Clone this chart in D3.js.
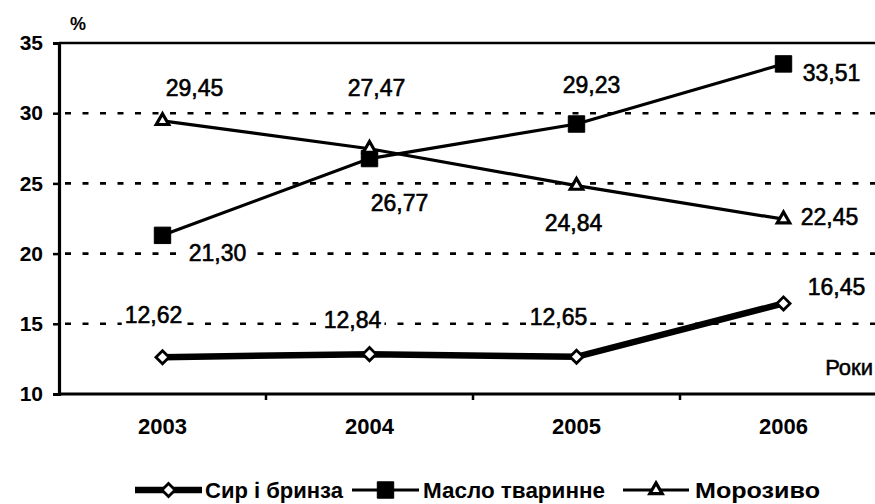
<!DOCTYPE html>
<html>
<head>
<meta charset="utf-8">
<script src="https://cdn.jsdelivr.net/npm/d3@7"></script>
<style>
  body { margin: 0; background: #fff; }
  text { font-family: "Liberation Sans", Arial, sans-serif; fill: #000; }
</style>
</head>
<body>
<svg id="chart" width="875" height="504"></svg>
<script>
const years = ['2003', '2004', '2005', '2006'];
const cheese = [12.62, 12.84, 12.65, 16.45];
const butter = [21.30, 26.77, 29.23, 33.51];
const iceCream = [29.45, 27.47, 24.84, 22.45];
const yTicks = [10, 15, 20, 25, 30, 35];
const seriesNames = ['Сир і бринза', 'Масло тваринне', 'Морозиво'];

const fmt = v => v.toFixed(2).replace('.', ',');

const svg = d3.select('#chart');
const plotL = 59, plotR = 887, plotT = 43, plotB = 394;

const x = d3.scaleBand().domain(years).range([plotL, plotR]).padding(0);
const cx = d => x(d) + x.bandwidth() / 2;
const y = d3.scaleLinear().domain([10, 35]).range([plotB, plotT]);

// dotted gridlines and solid top border
svg.append('g').selectAll('line').data(yTicks.filter(v => v > 10 && v < 35)).join('line')
  .attr('x1', plotL + 6).attr('x2', 875)
  .attr('y1', d => y(d)).attr('y2', d => y(d))
  .attr('stroke', '#000').attr('stroke-width', 2.6)
  .attr('stroke-dasharray', '6,11.5');
svg.append('line').attr('x1', plotL).attr('x2', 875).attr('y1', y(35)).attr('y2', y(35))
  .attr('stroke', '#000').attr('stroke-width', 2.6);

// y axis
const yAxis = svg.append('g').attr('transform', `translate(${plotL},0)`)
  .call(d3.axisLeft(y).tickValues(yTicks).tickSize(6).tickPadding(10));
yAxis.select('.domain').attr('stroke-width', 3.2);
yAxis.selectAll('.tick line').attr('stroke-width', 2.5);
yAxis.selectAll('.tick text').attr('font-size', 21).attr('font-weight', 'bold').attr('fill', '#000');

// x axis
const xAxis = svg.append('g').attr('transform', `translate(0,${plotB})`)
  .call(d3.axisBottom(x).tickSize(0).tickPadding(24).tickSizeOuter(0));
xAxis.select('.domain').attr('d', `M${plotL},0H875`).attr('stroke-width', 3.2);
xAxis.selectAll('.tick text').attr('font-size', 22).attr('font-weight', 'bold').attr('fill', '#000');
svg.append('g').selectAll('line').data(years.slice(1)).join('line')
  .attr('x1', d => x(d)).attr('x2', d => x(d))
  .attr('y1', plotB).attr('y2', plotB + 6)
  .attr('stroke', '#000').attr('stroke-width', 2.5);

svg.append('text').attr('x', 78).attr('y', 30).attr('text-anchor', 'middle')
  .attr('font-size', 18).attr('font-weight', 'bold').text('%');
svg.append('text').attr('x', 873).attr('y', 375).attr('text-anchor', 'end')
  .attr('font-size', 22).attr('stroke', '#000').attr('stroke-width', 0.5).text('Роки');

const line = d3.line().x((d, i) => cx(years[i])).y(d => y(d));

function drawSeries(vals, width, marker) {
  svg.append('path').datum(vals).attr('d', line)
    .attr('fill', 'none').attr('stroke', '#000').attr('stroke-width', width);
  svg.append('g').selectAll('path').data(vals).join('path')
    .attr('transform', (d, i) => `translate(${cx(years[i])},${y(d)})`)
    .attr('d', marker.d).attr('fill', marker.fill)
    .attr('stroke', '#000').attr('stroke-width', marker.sw);
}

const diamond = { d: d3.symbol(d3.symbolDiamond2, 110)(), fill: '#fff', sw: 2.8 };
const square = { d: d3.symbol(d3.symbolSquare, 270)(), fill: '#000', sw: 1 };
const triangle = { d: d3.symbol(d3.symbolTriangle2, 110)(), fill: '#fff', sw: 3.2 };

// value labels: offsets of label centre relative to its point
const labelOffsets = {
  cheese: [[-9, -42], [-17, -34], [-18, -40], [53, -16]],
  butter: [[55, 18], [30, 44], [15, -39], [48, 9]],
  ice: [[32, -33], [7, -61], [-3, 37], [46, -2]]
};
function drawLabels(vals, offs) {
  const g = svg.append('g');
  vals.forEach((d, i) => {
    const bg = g.append('rect').attr('fill', '#fff');
    const t = g.append('text')
      .attr('x', cx(years[i]) + offs[i][0])
      .attr('y', y(d) + offs[i][1])
      .attr('text-anchor', 'middle').attr('dominant-baseline', 'central')
      .attr('font-size', 23).attr('stroke', '#000').attr('stroke-width', 0.6)
      .text(fmt(d));
    const b = t.node().getBBox();
    bg.attr('x', b.x - 3).attr('y', b.y + 2).attr('width', b.width + 6).attr('height', b.height - 4);
  });
}
drawLabels(cheese, labelOffsets.cheese);
drawLabels(butter, labelOffsets.butter);
drawLabels(iceCream, labelOffsets.ice);

drawSeries(cheese, 6.5, diamond);
drawSeries(butter, 3.2, square);
drawSeries(iceCream, 3.2, triangle);

// legend
const legendItems = [
  { name: seriesNames[0], x1: 135, x2: 202, width: 6.5, marker: diamond, text: 205, len: 138 },
  { name: seriesNames[1], x1: 352, x2: 419, width: 3.2, marker: square, text: 423, len: 182 },
  { name: seriesNames[2], x1: 623, x2: 689, width: 3.2, marker: triangle, text: 695, len: 125 }
];
const ly = 490;
legendItems.forEach(it => {
  svg.append('line').attr('x1', it.x1).attr('x2', it.x2).attr('y1', ly).attr('y2', ly)
    .attr('stroke', '#000').attr('stroke-width', it.width);
  svg.append('path').attr('transform', `translate(${(it.x1 + it.x2) / 2},${ly})`)
    .attr('d', it.marker.d).attr('fill', it.marker.fill)
    .attr('stroke', '#000').attr('stroke-width', it.marker.sw);
  svg.append('text').attr('x', it.text).attr('y', ly).attr('dominant-baseline', 'central')
    .attr('font-size', 22).attr('font-weight', 'bold')
    .attr('textLength', it.len).attr('lengthAdjust', 'spacingAndGlyphs').text(it.name);
});
</script>
</body>
</html>
